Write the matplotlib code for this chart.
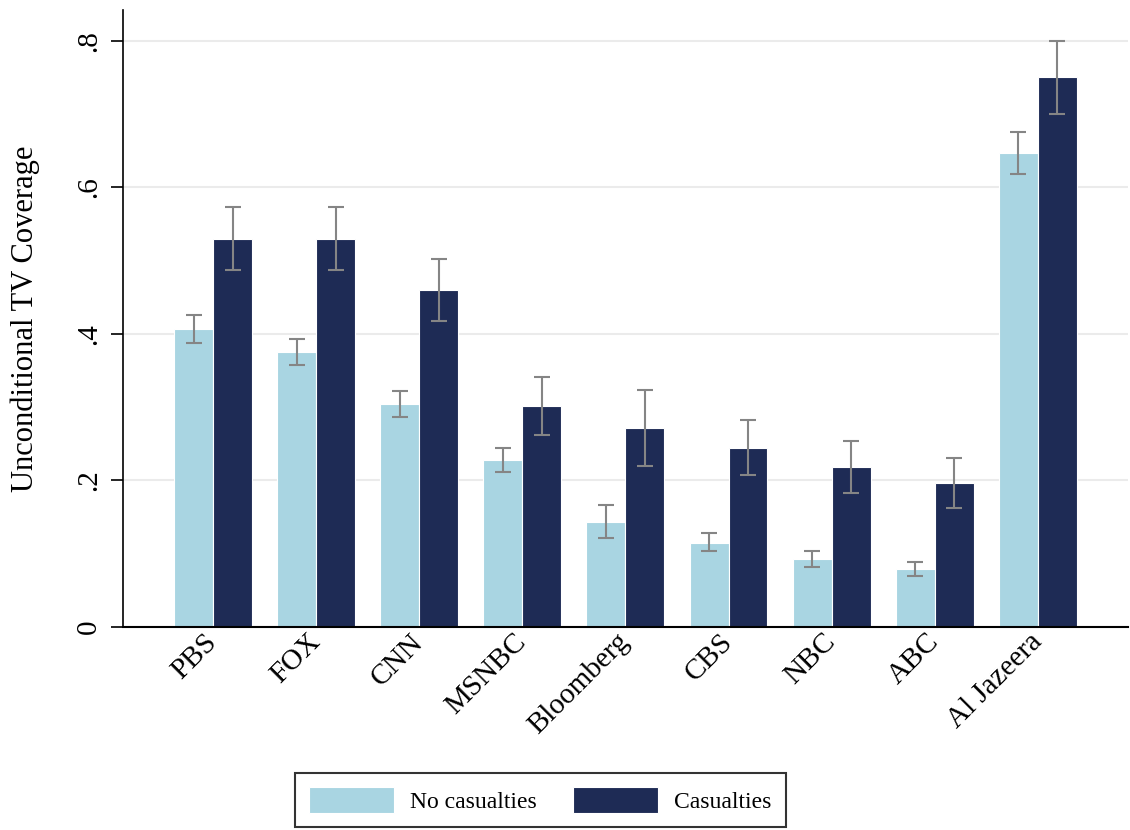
import numpy as np
import matplotlib
matplotlib.use("Agg")
from matplotlib import pyplot as plt

channels = ["PBS", "FOX", "CNN", "MSNBC", "Bloomberg", "CBS", "NBC", "ABC", "Al Jazeera"]
no_cas = [0.407, 0.375, 0.304, 0.228, 0.143, 0.115, 0.093, 0.079, 0.647]
no_cas_lo = [0.388, 0.357, 0.287, 0.212, 0.122, 0.104, 0.082, 0.070, 0.618]
no_cas_hi = [0.426, 0.393, 0.322, 0.244, 0.167, 0.128, 0.104, 0.089, 0.676]
cas = [0.530, 0.530, 0.460, 0.302, 0.271, 0.244, 0.218, 0.197, 0.750]
cas_lo = [0.487, 0.487, 0.418, 0.262, 0.219, 0.208, 0.183, 0.162, 0.700]
cas_hi = [0.573, 0.573, 0.502, 0.341, 0.324, 0.282, 0.254, 0.231, 0.799]

light = "#a9d5e2"
dark = "#1e2b55"
plt.rcParams["font.family"] = ["Liberation Serif", "DejaVu Serif"]

fig = plt.figure(figsize=(11.3, 8.3), dpi=100)
ax = fig.add_axes([0.109, 0.2446, 0.889, 0.7434])

x = np.arange(len(channels))
w = 0.378
err_lo = np.array(no_cas) - np.array(no_cas_lo)
err_hi = np.array(no_cas_hi) - np.array(no_cas)
ax.bar(x - w / 2, no_cas, w, color=light, edgecolor="white", linewidth=0.8,
       label="No casualties", zorder=2)
ax.errorbar(x - w / 2, no_cas, yerr=[err_lo, err_hi], fmt="none", ecolor="#858585",
            elinewidth=1.5, capsize=5.5, capthick=1.5, zorder=3)
err_lo = np.array(cas) - np.array(cas_lo)
err_hi = np.array(cas_hi) - np.array(cas)
ax.bar(x + w / 2, cas, w, color=dark, edgecolor="white", linewidth=0.8,
       label="Casualties", zorder=2)
ax.errorbar(x + w / 2, cas, yerr=[err_lo, err_hi], fmt="none", ecolor="#858585",
            elinewidth=1.5, capsize=5.5, capthick=1.5, zorder=3)

ax.set_xlim(-0.873, 8.873)
ax.set_ylim(0, 0.842)
ax.set_yticks([0, 0.2, 0.4, 0.6, 0.8])
ax.set_yticklabels(["0", ".2", ".4", ".6", ".8"], rotation=90, va="center", fontsize=21)
ax.tick_params(axis="y", length=9, width=1.2, pad=6)
ax.set_xticks(x)
ax.set_xticklabels(channels, rotation=45, ha="right", va="center",
                   rotation_mode="anchor", fontsize=21)
ax.tick_params(axis="x", length=0, pad=8)
ax.grid(axis="y", color="#ebebeb", linewidth=1.5, zorder=0)
ax.set_axisbelow(True)
ax.set_ylabel("Unconditional TV Coverage", fontsize=22, labelpad=26)

for s in ["top", "right"]:
    ax.spines[s].set_visible(False)
ax.spines["left"].set_linewidth(1.2)
ax.spines["bottom"].set_linewidth(1.5)

leg = fig.legend(loc="center", bbox_to_anchor=(0.478, 0.036), ncol=2, fontsize=17,
                 frameon=True, fancybox=False, edgecolor="black",
                 handlelength=3.6, handleheight=1.3, handletextpad=0.7,
                 columnspacing=1.5, borderpad=0.6)
leg.get_frame().set_linewidth(1.5)

fig.savefig("out.png", dpi=100)
